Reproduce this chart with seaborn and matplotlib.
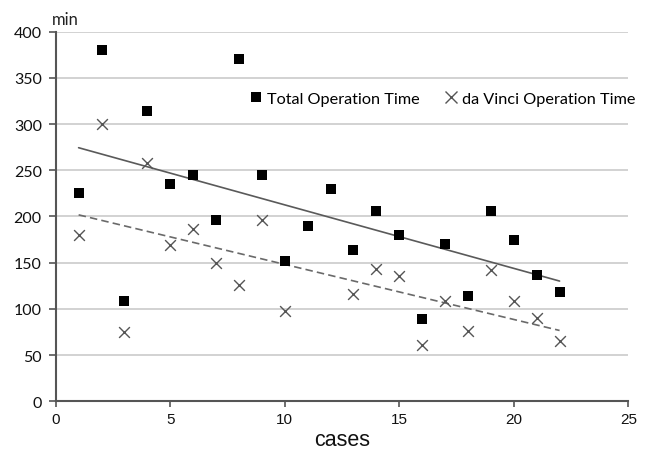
import numpy as np
import pandas as pd
import matplotlib
matplotlib.use("Agg")
import matplotlib.pyplot as plt
import seaborn as sns
from matplotlib.lines import Line2D

cases = list(range(1, 23))
total_time = [225, 380, 109, 314, 235, 245, 196, 370, 245, 152, 190,
              230, 164, 206, 180, 89, 170, 114, 206, 175, 137, 118]
davinci_time = [180, 300, 74.5, 258, 169, 186, 150, 125.6, 196, 98, np.nan,
                np.nan, 116, 143, 136, 61, 108.6, 76, 142, 109, 90, 65.5]
y_ticks = [0, 50, 100, 150, 200, 250, 300, 350, 400]
x_ticks = [0, 5, 10, 15, 20, 25]
labels = ["Total Operation Time", "da Vinci Operation Time"]

df = pd.DataFrame({"cases": cases, "total": total_time, "davinci": davinci_time})

sns.set_theme(style="white")
plt.rcParams['font.family'] = ['Lato', 'DejaVu Sans']

fig = plt.figure(figsize=(6.5, 4.56), dpi=100)
ax = fig.add_axes([0.0857, 0.1178, 0.8809, 0.8105])

for yv in y_ticks[1:]:
    ax.axhline(yv, color="#cfcfcf", lw=1.3, zorder=0)

sns.regplot(data=df, x="cases", y="total", scatter=False, ci=None, ax=ax,
            line_kws=dict(color="#5a5a5a", lw=1.2, zorder=2))
sns.regplot(data=df.dropna(), x="cases", y="davinci", scatter=False, ci=None, ax=ax,
            line_kws=dict(color="#6a6a6a", lw=1.2, ls=(0, (4.5, 2.5)), zorder=2))

sns.scatterplot(data=df, x="cases", y="total", marker="s", s=55, color="black",
                edgecolor="black", linewidth=0, ax=ax, zorder=4)
sns.scatterplot(data=df.dropna(), x="cases", y="davinci", marker="x", s=60,
                color="#555555", linewidth=1.0, ax=ax, zorder=3)

ax.set_xlim(0, 25)
ax.set_ylim(0, 400)
ax.set_xticks(x_ticks)
ax.set_yticks(y_ticks)
ax.set_xticklabels([str(v) for v in x_ticks], family=["Liberation Sans"], fontsize=11)
ax.set_yticklabels([str(v) for v in y_ticks], family=["Lato"], fontsize=11.5)
ax.tick_params(axis="x", direction="out", length=4, width=1.2, color="#555555", pad=4, labelcolor="#111111")
ax.tick_params(axis="y", direction="out", length=5, width=1.2, color="#555555", pad=5, labelcolor="#111111")
ax.tick_params(bottom=True, left=True)

for side in ["top", "right"]:
    ax.spines[side].set_visible(False)
for side in ["left", "bottom"]:
    ax.spines[side].set_color("#555555")
    ax.spines[side].set_linewidth(1.5)

ax.set_xlabel("cases", family=["Liberation Sans"], fontsize=15.5, color="#111111", labelpad=2)
ax.set_ylabel("")
fig.text(52/650, 1 - 25/456, "min", fontsize=12, family=["Lato"], color="#222222")

handles = [Line2D([], [], marker="s", color="black", ls="none", markersize=7.5, markeredgewidth=0),
           Line2D([], [], marker="x", color="#555555", ls="none", markersize=8, markeredgewidth=1.0)]
leg = ax.legend(handles, labels, loc="center left", bbox_to_anchor=(0.34, 0.818), ncol=2,
                frameon=False, handlelength=0.7, handletextpad=0.35, columnspacing=1.55,
                borderpad=0, borderaxespad=0, prop={"family": ["Lato"], "size": 11.7})
for t in leg.get_texts():
    t.set_color("black")

fig.savefig("out.png", dpi=100)
